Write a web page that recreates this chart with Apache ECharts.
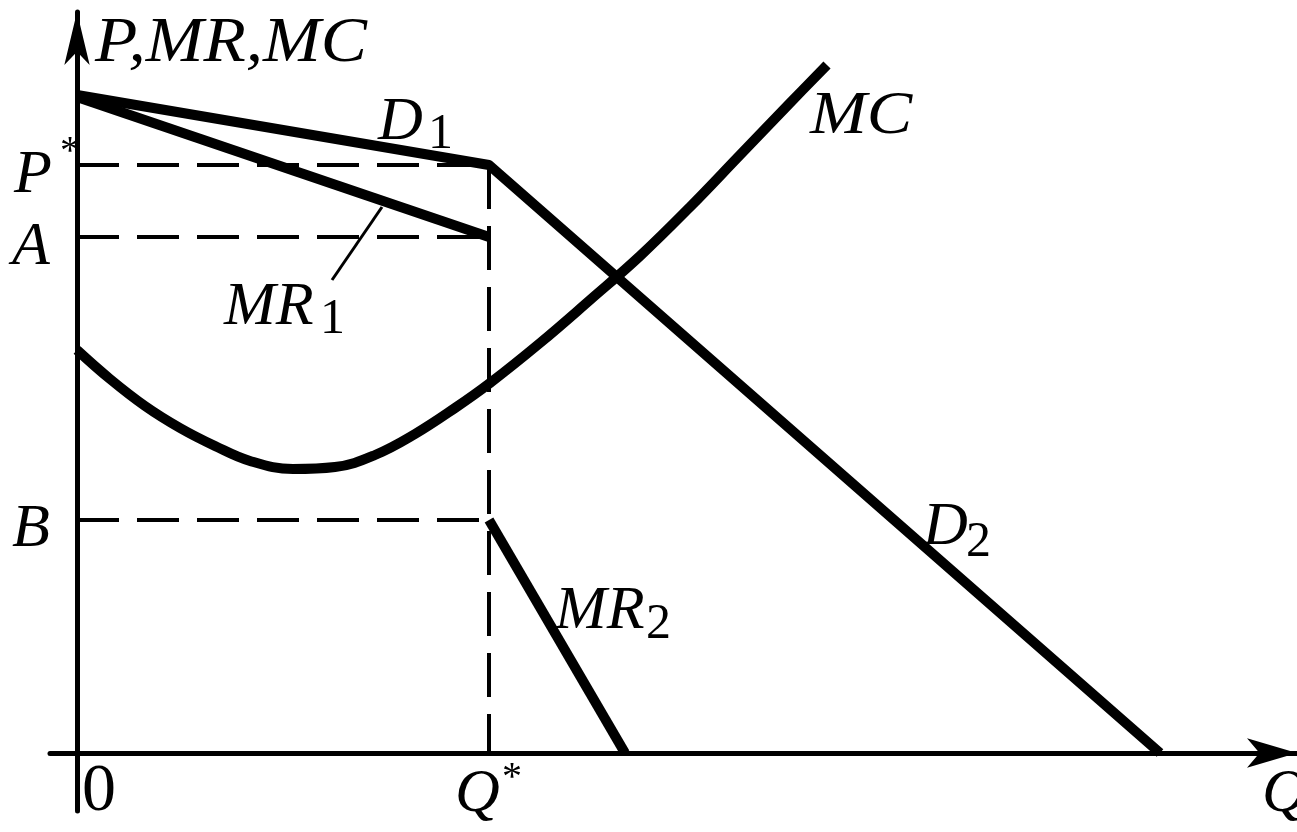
<!DOCTYPE html>
<html>
<head>
<meta charset="utf-8">
<style>
  html, body { margin: 0; padding: 0; background: #ffffff; }
  #chart { width: 1297px; height: 832px; }
</style>
<script src="https://cdn.jsdelivr.net/npm/echarts@6/dist/echarts.min.js"></script>
</head>
<body>
<div id="chart"></div>
<script>
// ---- Data (arbitrary units: quantity Q, price P) ----
const qStar = 41.2;
const pStar = 58.8;
const aLevel = 51.6;
const bLevel = 23.3;

const demandQ = [0, 41.2, 108.3];        // D1 then D2 (kinked demand)
const demandP = [65.8, 58.8, 0];

const mr1Q = [0, 41.2];
const mr1P = [65.6, 51.6];

const mr2Q = [41.2, 54.8];
const mr2P = [23.3, 0];

const mcQ = [0, 3.3, 6.8, 10.3, 13.8, 17.3, 21.6, 25.8, 29.8, 33.8, 37.8, 41.3, 46.3, 51.3, 56.3, 61.3, 66.3, 71.3, 75.0];
const mcP = [40.3, 37.4, 34.7, 32.5, 30.7, 29.2, 28.4, 28.6, 29.8, 31.9, 34.5, 37.0, 41.0, 45.3, 49.7, 54.6, 59.8, 65.0, 68.8];

const pointerQ = [25.5, 30.5];           // leader line to MR1
const pointerP = [47.3, 54.6];

const levelNames = ['P', 'A', 'B'];
const axisTitles = ['P,MR,MC', 'Q'];

const zip = (xs, ys) => xs.map((x, i) => [x, ys[i]]);

const chart = echarts.init(document.getElementById('chart'), null, { renderer: 'canvas' });

const thick = { color: '#000', width: 10, cap: 'butt', join: 'round' };
const dashStyle = { color: '#000', width: 4, type: [42, 18], cap: 'butt' };
const dashStyleV = { color: '#000', width: 4, type: [44, 17], cap: 'butt' };

function lineSeries(name, data, style, z) {
  return {
    name, type: 'line', data, symbol: 'none', smooth: false,
    lineStyle: style, z: z || 3, silent: true, animation: false, clip: false
  };
}

const serif = 'Liberation Serif';
function txt(text, x, y, size, italic, sx) {
  return {
    type: 'text', x: x, y: y, silent: true, z: 100, scaleX: sx || 1,
    style: {
      text: text,
      fontFamily: serif,
      fontSize: size,
      fontStyle: italic ? 'italic' : 'normal',
      fontWeight: 'normal',
      fill: '#000',
      textAlign: 'left', textVerticalAlign: 'middle',
      align: 'left', verticalAlign: 'middle'
    }
  };
}

const option = {
  animation: false,
  backgroundColor: '#ffffff',
  grid: { left: 50, right: 0, top: 12, bottom: 21, containLabel: false },
  xAxis: {
    type: 'value', min: -2.7, max: 122.0,
    axisLine: { show: true, onZero: true, symbol: ['none', 'arrow'], symbolSize: [22, 50],
      lineStyle: { color: '#000', width: 5 } },
    axisTick: { show: false }, axisLabel: { show: false }, splitLine: { show: false }
  },
  yAxis: {
    type: 'value', min: -5.8, max: 74.1,
    axisLine: { show: true, onZero: true, symbol: ['none', 'arrow'], symbolSize: [19, 53],
      lineStyle: { color: '#000', width: 5 } },
    axisTick: { show: false }, axisLabel: { show: false }, splitLine: { show: false }
  },
  series: [
    lineSeries('P* level', [[0, pStar], [qStar, pStar]], dashStyle, 2),
    lineSeries('A level', [[0, aLevel], [qStar, aLevel]], dashStyle, 2),
    lineSeries('B level', [[0, bLevel], [qStar, bLevel]], dashStyle, 2),
    lineSeries('Q* line', [[qStar, pStar], [qStar, 0]], dashStyleV, 2),
    lineSeries('D', zip(demandQ, demandP), thick, 4),
    lineSeries('MR1', zip(mr1Q, mr1P), thick, 4),
    lineSeries('MR2', zip(mr2Q, mr2P), thick, 4),
    Object.assign(lineSeries('MC', zip(mcQ, mcP), thick, 4), { smooth: 0.4 }),
    lineSeries('pointer', zip(pointerQ, pointerP), { color: '#000', width: 3 }, 4)
  ],
  graphic: [
    txt(axisTitles[0], 95, 44, 63, true, 1.1),
    txt(levelNames[0], 14, 176, 62, true),
    txt('*', 60, 152, 40, false),
    txt(levelNames[1], 12, 248, 62, true),
    txt(levelNames[2], 12, 530, 62, true),
    txt('MR', 224, 308, 62, true),
    txt('1', 320, 320, 50, false),
    txt('D', 378, 123, 62, true),
    txt('1', 428, 135, 50, false),
    txt('MC', 810, 117, 62, true, 1.1),
    txt('D', 923, 528, 62, true),
    txt('2', 966, 543, 50, false),
    txt('MR', 555, 612, 62, true),
    txt('2', 646, 625, 50, false),
    txt('0', 82, 792, 68, false),
    txt('Q', 455, 795, 62, true),
    txt('*', 502, 778, 40, false),
    txt(axisTitles[1], 1262, 795, 62, true)
  ]
};
chart.setOption(option);
</script>
</body>
</html>
